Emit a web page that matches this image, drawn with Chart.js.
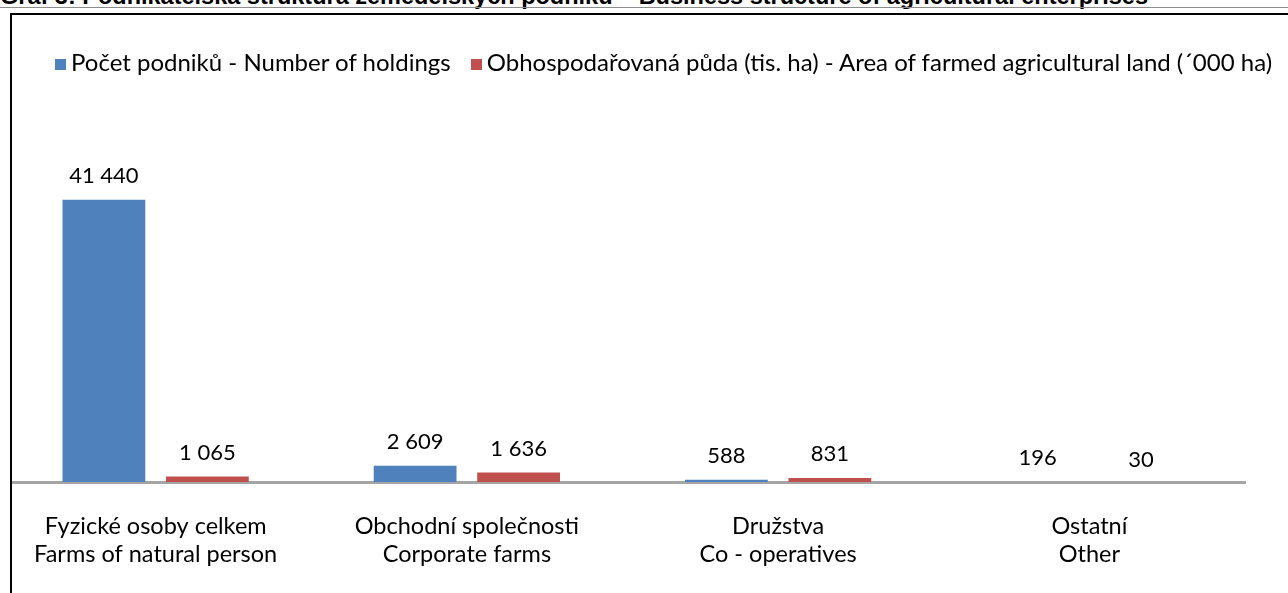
<!DOCTYPE html>
<html>
<head>
<meta charset="utf-8">
<script src="https://cdn.jsdelivr.net/npm/chart.js@4.4.1/dist/chart.umd.min.js"></script>
<style>
  body { margin: 0; width: 1288px; height: 593px; overflow: hidden; background: #fff; position: relative; font-family: Lato, sans-serif; }
  #title { position: absolute; left: 0; top: -15px; font: bold 23.5px "Liberation Sans", Arial, sans-serif; line-height: 23px; white-space: nowrap; color: #000; }
  #rule { position: absolute; left: 0; top: 7px; width: 1288px; height: 1px; background: #8c8c8c; }
  #frame { position: absolute; left: 10px; top: 13px; width: 1290px; height: 590px; border-left: 2px solid #000; border-top: 2px solid #000; overflow: hidden; }
  #wrap { position: absolute; left: -12px; top: -15px; width: 1288px; height: 593px; }
  #legend { position: absolute; left: 55px; top: 48px; display: flex; gap: 20px; font-size: 24px; line-height: 28px; color: #000; white-space: nowrap; }
  #legend span.box { display: inline-block; width: 11px; height: 11px; margin-right: 5px; vertical-align: 1px; }
</style>
</head>
<body>
<div id="title">Graf 3: Podnikatelská struktura zemědělských podniků – Business structure of agricultural enterprises</div>
<div id="rule"></div>
<div id="frame"><div id="wrap"><canvas id="chart" width="1288" height="593"></canvas></div></div>
<div id="legend"></div>
<script>
// ─── DATA ─────────────────────────────────────────────────────────────────────
const categories = [
    ['Fyzické osoby celkem', 'Farms of natural person'],
    ['Obchodní společnosti', 'Corporate farms'],
    ['Družstva', 'Co - operatives'],
    ['Ostatní', 'Other']
];
const seriesNames = [
    'Počet podniků - Number of holdings',
    'Obhospodařovaná půda (tis. ha) - Area of farmed agricultural land (´000 ha)'
];
const holdings = [41440, 2609, 588, 196];
const farmedLand = [1065, 1636, 831, 30];
const palette = ['#4F81BD', '#C0504D'];

const fmt = v => String(v).replace(/\B(?=(\d{3})+(?!\d))/g, ' ');

// ─── LEGEND ───────────────────────────────────────────────────────────────────
document.getElementById('legend').innerHTML = seriesNames
    .map((name, i) => `<div><span class="box" style="background:${palette[i]}"></span>${name}</div>`)
    .join('');

// ─── VALUE LABELS ─────────────────────────────────────────────────────────────
const valueLabels = {
    id: 'valueLabels',
    afterDatasetsDraw(chart) {
        const ctx = chart.ctx;
        ctx.save();
        ctx.font = '22px Lato';
        ctx.fillStyle = '#000';
        ctx.textAlign = 'center';
        ctx.textBaseline = 'middle';
        chart.data.datasets.forEach((ds, i) => {
            chart.getDatasetMeta(i).data.forEach((bar, j) => {
                const y = Math.min(bar.y, chart.chartArea.bottom + 4) - 24;
                ctx.fillText(fmt(ds.data[j]), bar.x, y);
            });
        });
        ctx.restore();
    }
};

// ─── CHART ────────────────────────────────────────────────────────────────────
new Chart(document.getElementById('chart'), {
    type: 'bar',
    data: {
        labels: categories,
        datasets: [
            { label: seriesNames[0], data: holdings, backgroundColor: palette[0], categoryPercentage: 0.665, barPercentage: 0.8 },
            { label: seriesNames[1], data: farmedLand, backgroundColor: palette[1], categoryPercentage: 0.665, barPercentage: 0.8 }
        ]
    },
    options: {
        responsive: false,
        animation: false,
        devicePixelRatio: 1,
        layout: { padding: { top: 141, left: 0, right: 43, bottom: 0 } },
        plugins: { legend: { display: false }, tooltip: { enabled: false } },
        scales: {
            x: {
                grid: { display: false, drawTicks: false },
                border: { display: true, color: '#A5A5A5', width: 3 },
                ticks: { color: '#000', font: { family: 'Lato', size: 23.5, lineHeight: 1.2 }, padding: 30, maxRotation: 0, autoSkip: false },
                afterFit: s => { s.height = 111; }
            },
            y: { display: false, min: 250, max: 50000 }
        }
    },
    plugins: [valueLabels]
});
</script>
</body>
</html>
